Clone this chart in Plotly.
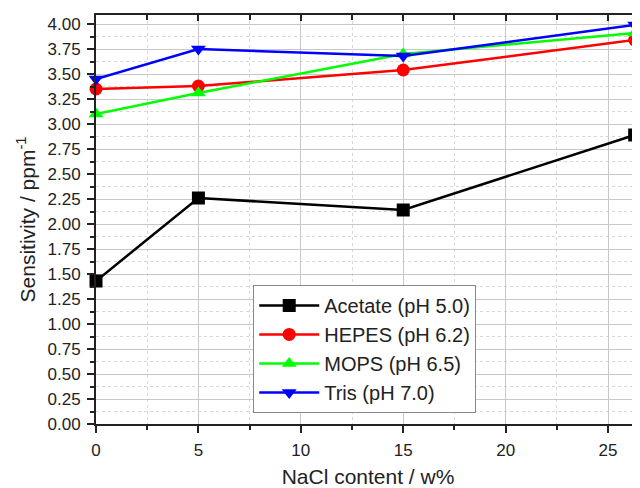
import plotly.graph_objects as go

x_vals = [0, 5, 15, 26.3]
acetate = [1.43, 2.26, 2.14, 2.89]
hepes = [3.35, 3.38, 3.54, 3.84]
mops = [3.10, 3.31, 3.70, 3.91]
tris = [3.45, 3.75, 3.68, 3.99]

names = ["Acetate (pH 5.0)", "HEPES (pH 6.2)", "MOPS (pH 6.5)", "Tris (pH 7.0)"]
series = [acetate, hepes, mops, tris]
colors = ["#000000", "#ff0000", "#00ff00", "#0000ff"]
symbols = ["square", "circle", "triangle-up", "triangle-down"]

fig = go.Figure()
for n, s, c, m in zip(names, series, colors, symbols):
    fig.add_trace(go.Scatter(x=x_vals, y=s, name=n, mode="lines+markers",
                             cliponaxis=False,
                             line=dict(color=c, width=2.5),
                             marker=dict(symbol=m, size=13, color=c)))

# invisible trace for top axis
fig.add_trace(go.Scatter(x=[0], y=[0], xaxis="x2", showlegend=False,
                         mode="markers", marker=dict(opacity=0), hoverinfo="skip"))

font = "Liberation Sans, Arial, sans-serif"
fig.update_layout(
    width=632, height=480,
    margin=dict(l=88, r=0, t=7, b=64),
    plot_bgcolor="white", paper_bgcolor="white",
    font=dict(family=font, color="#222222"),
    xaxis=dict(range=[0, 26.56], dtick=5, showgrid=True, gridcolor="#c8c8c8", gridwidth=1,
               ticks="outside", ticklen=7, tickwidth=2, tickcolor="#222",
               showline=True, linecolor="#222", linewidth=2, zeroline=False,
               tickfont=dict(size=17, color="#222"), ticklabelstandoff=3,
               minor=dict(dtick=2.5, showgrid=True, griddash="dot", gridcolor="#d8d8d8",
                          ticks="outside", ticklen=4, tickwidth=2, tickcolor="#222"),
               title=dict(text="NaCl content / w%", font=dict(size=21, color="#222"), standoff=10)),
    xaxis2=dict(range=[0, 26.56], dtick=5, overlaying="x", side="top", showgrid=False,
                ticks="inside", ticklen=6, tickwidth=2, tickcolor="#222",
                showticklabels=False, showline=True, linecolor="#222", linewidth=2,
                zeroline=False,
                minor=dict(dtick=2.5, ticks="inside", ticklen=5, tickwidth=2, tickcolor="#222")),
    yaxis=dict(range=[0, 4.09], dtick=0.25, tickformat=".2f", showgrid=True,
               gridcolor="#c8c8c8", gridwidth=1,
               ticks="outside", ticklen=7, tickwidth=2, tickcolor="#222",
               showline=True, linecolor="#222", linewidth=2, zeroline=False,
               tickfont=dict(size=17, color="#222"), ticklabelstandoff=3,
               minor=dict(dtick=0.125, showgrid=True, griddash="dot", gridcolor="#d8d8d8",
                          ticks="outside", ticklen=4, tickwidth=2, tickcolor="#222"),
               title=dict(text="Sensitivity / ppm<sup>-1</sup>", font=dict(size=21, color="#222"),
                          standoff=6)),
    legend=dict(x=0.289, y=0.027, xanchor="left", yanchor="bottom",
                bgcolor="white", bordercolor="#888", borderwidth=1,
                font=dict(size=20, color="#222"), itemwidth=60, tracegroupgap=0),
)

fig.write_html("out.html")
